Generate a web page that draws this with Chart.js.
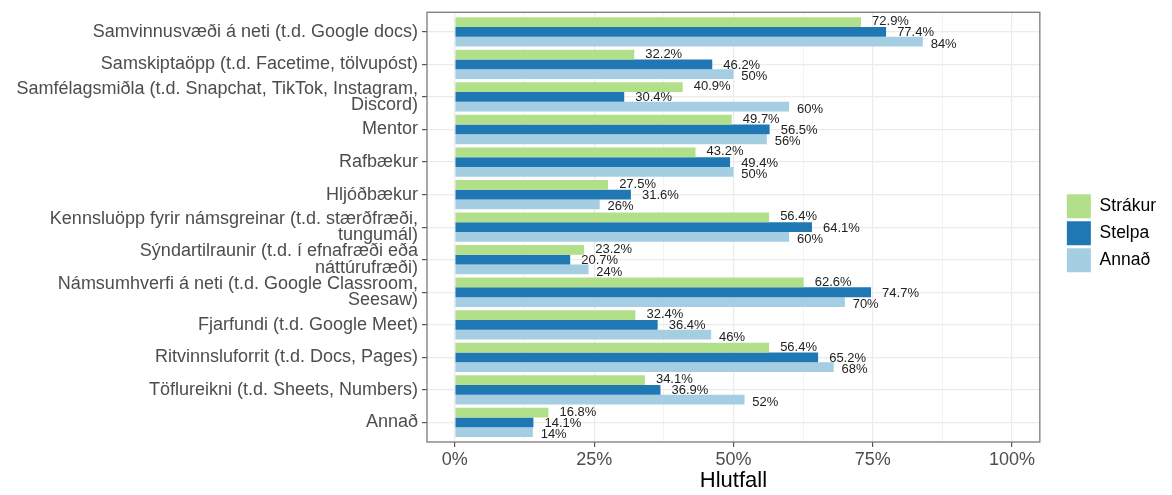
<!DOCTYPE html>
<html>
<head>
<meta charset="utf-8">
<title>Hlutfall eftir kyni</title>
<script src="https://cdn.jsdelivr.net/npm/chart.js@4.4.1/dist/chart.umd.min.js"></script>
<style>
  html, body { margin: 0; padding: 0; background: #fff; }
  #wrap { width: 1172px; height: 495px; }
</style>
</head>
<body>
<div id="wrap"><canvas id="myChart" width="1172" height="495"></canvas></div>
<script>
const flokkar = [
  'Samvinnusvæði á neti (t.d. Google docs)',
  'Samskiptaöpp (t.d. Facetime, tölvupóst)',
  ['Samfélagsmiðla (t.d. Snapchat, TikTok, Instagram,', 'Discord)'],
  'Mentor',
  'Rafbækur',
  'Hljóðbækur',
  ['Kennsluöpp fyrir námsgreinar (t.d. stærðfræði,', 'tungumál)'],
  ['Sýndartilraunir (t.d. í efnafræði eða', 'náttúrufræði)'],
  ['Námsumhverfi á neti (t.d. Google Classroom,', 'Seesaw)'],
  'Fjarfundi (t.d. Google Meet)',
  'Ritvinnsluforrit (t.d. Docs, Pages)',
  'Töflureikni (t.d. Sheets, Numbers)',
  'Annað'
];
const strakur = [72.9, 32.2, 40.9, 49.7, 43.2, 27.5, 56.4, 23.2, 62.6, 32.4, 56.4, 34.1, 16.8];
const stelpa  = [77.4, 46.2, 30.4, 56.5, 49.4, 31.6, 64.1, 20.7, 74.7, 36.4, 65.2, 36.9, 14.1];
const annad   = [84, 50, 60, 56, 50, 26, 60, 24, 70, 46, 68, 52, 14];
const xTicks = [0, 25, 50, 75, 100];
const xMinor = [12.5, 37.5, 62.5, 87.5];

const FONT = '"Liberation Sans", Arial, sans-serif';
const GRID = '#EBEBEB';
const TICKCOL = '#555555';

const asPoints = arr => arr.map((v, i) => ({ x: v, y: i }));

// panel frame + value labels next to each bar
const panelFrame = {
  id: 'panelFrame',
  afterDatasetsDraw(chart) {
    const { ctx, chartArea: a } = chart;
    ctx.save();
    ctx.strokeStyle = '#7a7a7a';
    ctx.lineWidth = 1.3;
    ctx.strokeRect(a.left, a.top, a.right - a.left, a.bottom - a.top);

    ctx.font = '13px ' + FONT;
    ctx.fillStyle = '#222';
    ctx.textBaseline = 'middle';
    ctx.textAlign = 'left';
    chart.data.datasets.forEach((ds, i) => {
      chart.getDatasetMeta(i).data.forEach((bar, j) => {
        const txt = ds.data[j].x + '%';
        const w = ctx.measureText(txt).width;
        ctx.fillText(txt, bar.x + 0.3 * w, bar.y + (i - 1) * 1.5 + 1);
      });
    });
    ctx.restore();
  }
};

const legendShift = {
  id: 'legendShift',
  afterLayout(chart) {
    chart.legend.top += 6;
    chart.legend.bottom += 6;
  }
};

new Chart(document.getElementById('myChart'), {
  type: 'bar',
  data: {
    datasets: [
      { label: 'Strákur', data: asPoints(strakur), backgroundColor: '#B2DF8A' },
      { label: 'Stelpa', data: asPoints(stelpa), backgroundColor: '#1F78B4' },
      { label: 'Annað', data: asPoints(annad), backgroundColor: '#A6CEE3' }
    ]
  },
  options: {
    indexAxis: 'y',
    responsive: false,
    animation: false,
    categoryPercentage: 0.9,
    barPercentage: 1.0,
    layout: { padding: { left: 0, right: 6, top: 9, bottom: 0 } },
    plugins: {
      tooltip: { enabled: false },
      legend: {
        position: 'right',
        fullSize: false,
        labels: {
          boxWidth: 24,
          boxHeight: 24,
          padding: 3,
          color: '#000',
          font: { family: FONT, size: 17.5 }
        }
      }
    },
    scales: {
      x: {
        type: 'linear',
        min: -5,
        max: 105,
        afterBuildTicks: s => {
          s.ticks = xTicks.concat(xMinor).sort((a, b) => a - b).map(v => ({ value: v }));
        },
        afterFit: s => { s.height = 53; },
        border: { display: false },
        grid: {
          color: GRID,
          lineWidth: c => (c.tick && xTicks.includes(c.tick.value)) ? 1.2 : 0.6,
          tickColor: c => (c.tick && xTicks.includes(c.tick.value)) ? TICKCOL : 'rgba(0,0,0,0)',
          tickLength: 5
        },
        ticks: {
          autoSkip: false,
          maxRotation: 0,
          padding: 2,
          color: '#4D4D4D',
          font: { family: FONT, size: 18 },
          callback: v => xTicks.includes(v) ? v + '%' : ''
        },
        title: {
          display: true,
          text: 'Hlutfall',
          color: '#000',
          font: { family: FONT, size: 22 },
          padding: { top: 0, bottom: 1 }
        }
      },
      y: {
        type: 'linear',
        reverse: true,
        offset: false,
        min: -0.6,
        max: flokkar.length - 0.4,
        afterBuildTicks: s => {
          s.ticks = flokkar.map((_, i) => ({ value: i }));
        },
        afterFit: s => { s.width = 427; },
        border: { display: false },
        grid: {
          offset: false,
          color: GRID,
          lineWidth: 1.2,
          tickColor: TICKCOL,
          tickLength: 5
        },
        ticks: {
          autoSkip: false,
          padding: 4,
          color: '#4D4D4D',
          font: { family: FONT, size: 18, lineHeight: 0.92 },
          callback: v => flokkar[v]
        }
      },
      gap: {
        type: 'linear',
        axis: 'y',
        position: 'right',
        display: true,
        afterFit: s => { s.width = 24; },
        border: { display: false },
        grid: { display: false },
        ticks: { display: false }
      }
    }
  },
  plugins: [panelFrame, legendShift]
});
</script>
</body>
</html>
